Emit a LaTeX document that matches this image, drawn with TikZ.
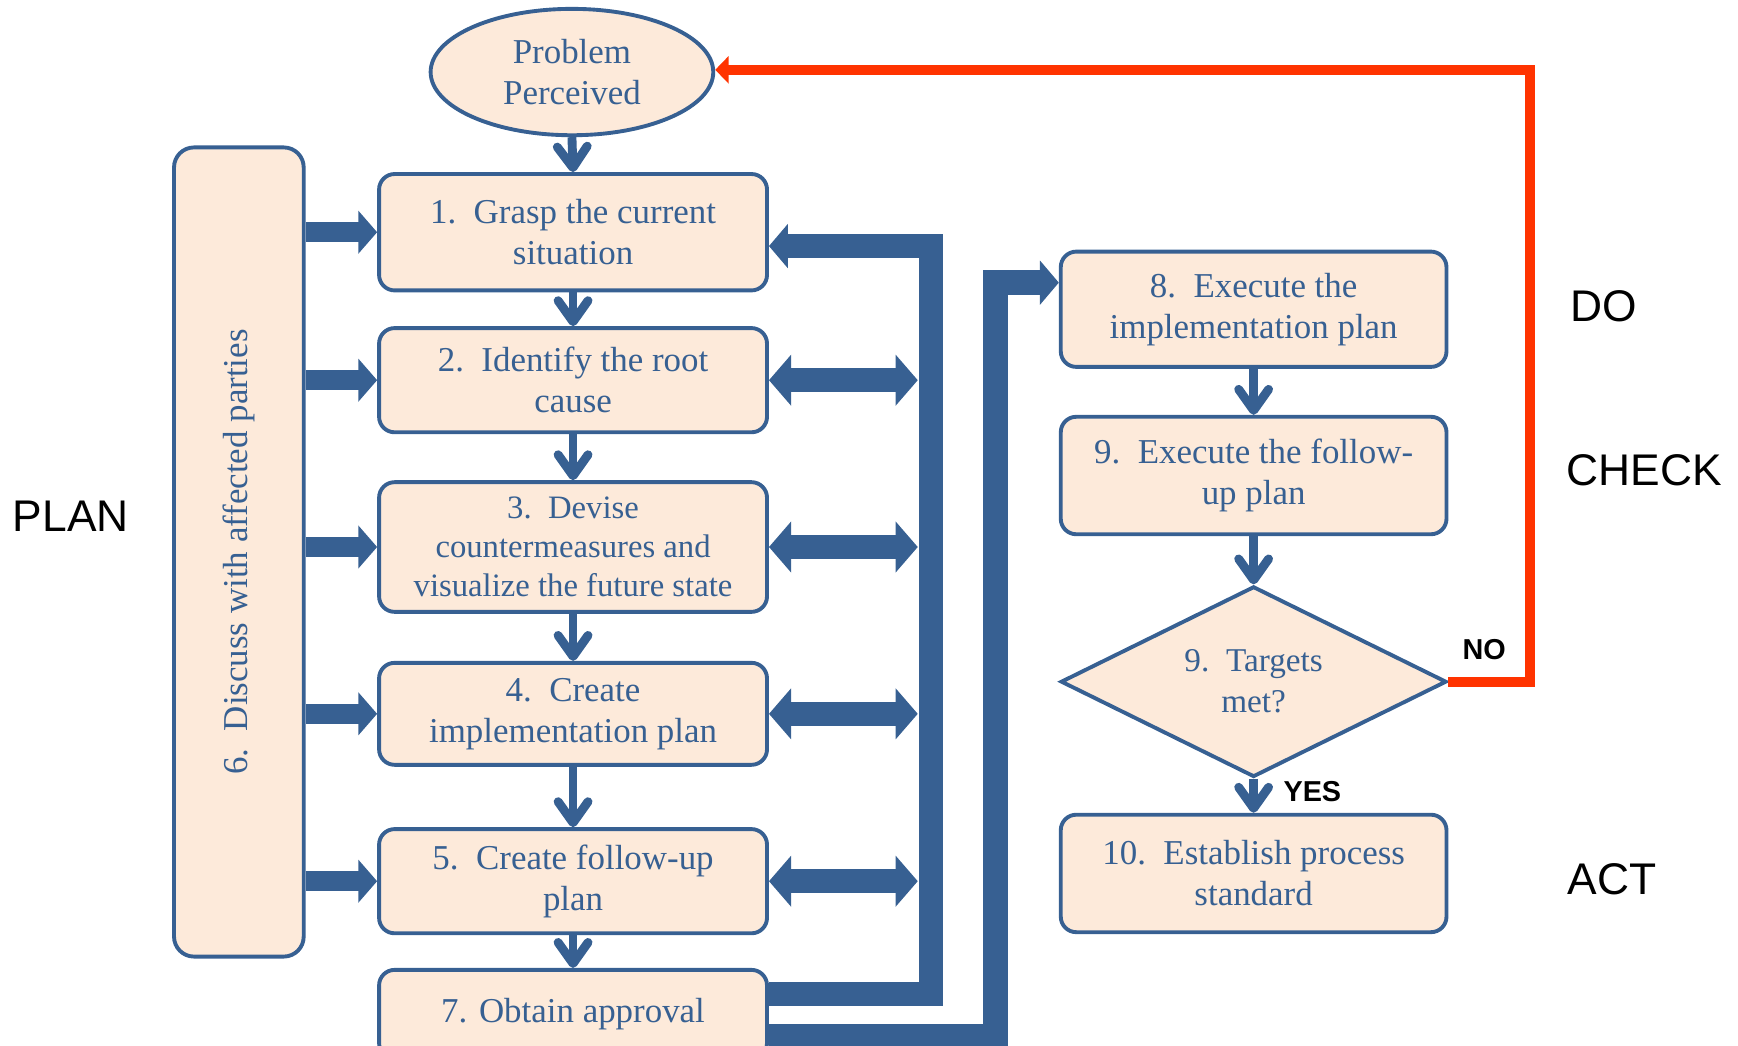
\documentclass[tikz,border=0pt]{standalone}
\usepackage{fontspec}
\setmainfont{Liberation Serif}
\setsansfont{Liberation Sans}
\usetikzlibrary{arrows.meta,shapes.geometric}
\definecolor{bl}{RGB}{55,96,146}
\definecolor{pe}{RGB}{253,234,218}
\definecolor{rd}{RGB}{255,51,0}
\begin{document}
\begin{tikzpicture}[x=1pt,y=-1pt,
 txt/.style={text=bl,font=\fontsize{31.5}{37}\selectfont,align=center},
 box/.style={txt,draw=bl,line width=3.5pt,fill=pe,rounded corners=14pt,inner sep=0pt,minimum width=350pt},
 rbox/.style={box,minimum width=348pt},
 dn/.style={draw=bl,line width=8pt,-{Straight Barb[length=19pt,width=27pt,round]}},
 blk/.style={draw=bl,line width=18pt,-{Triangle[length=17pt,width=38pt]}},
 dbl/.style={draw=bl,line width=22pt,{Triangle[length=20pt,width=45pt]}-{Triangle[length=20pt,width=45pt]}},
 brk/.style={draw=bl,line width=22pt,line join=miter,-{Triangle[length=17pt,width=39pt]}},
 phase/.style={font=\sffamily\fontsize{40}{46}\selectfont,anchor=west},
 yn/.style={font=\sffamily\bfseries\fontsize{26}{30}\selectfont}
]
\useasboundingbox (0,0) rectangle (1568,943);
\clip (0,0) rectangle (1568,943);

% left column
\node[txt,ellipse,draw=bl,line width=3.5pt,fill=pe,inner sep=0pt,minimum width=255pt,minimum height=114pt] (pp) at (516,65) {Problem\\Perceived};
\node[box,minimum height=105pt] (b1) at (517,209.5) {1.~~Grasp the current\\situation};
\node[box,minimum height=94pt] (b2) at (517,343) {2.~~Identify the root\\cause};
\node[box,minimum height=117pt,font=\fontsize{29.5}{35}\selectfont] (b3) at (517,493.5) {3.~~Devise\\countermeasures and\\visualize the future state};
\node[box,minimum height=92pt] (b4) at (517,644) {4.~~Create\\implementation plan};
\node[box,minimum height=94pt] (b5) at (517,795) {5.~~Create follow-up\\plan};
\node[box,minimum height=80pt] (b7) at (517,915) {7. Obtain approval};
\node[box,rotate=90,rounded corners=18pt,minimum width=730pt,minimum height=117pt] (b6) at (215.5,498) {6.~~Discuss with affected parties};

% right column
\node[rbox,minimum height=104pt] (b8) at (1131,279) {8.~~Execute the\\implementation plan};
\node[rbox,minimum height=106pt] (b9) at (1131,429) {9.~~Execute the follow-\\up plan};
\node[txt,diamond,draw=bl,line width=3.5pt,fill=pe,inner sep=0pt,shape aspect=2,minimum width=348pt,minimum height=172pt,font=\fontsize{30}{37}\selectfont] (dm) at (1131,615) {9.~~Targets\\met?};
\node[rbox,minimum height=106pt] (b10) at (1131,788) {10.~~Establish process\\standard};

% phase labels
\node[phase] (lplan) at (8,466) {PLAN};
\node[phase] (ldo) at (1413,276) {DO};
\node[phase] (lcheck) at (1410,424) {CHECK};
\node[phase] (lact) at (1411,793) {ACT};
\node[yn] (lyes) at (1184,714) {YES};
\node[yn] (lno) at (1339,586) {NO};

% coordinates
\coordinate (dl) at (828,0);
\coordinate (k1) at (840,897);
\coordinate (k2) at (840,222);
\coordinate (k3) at (898,935);
\coordinate (k4) at (898,255);
\coordinate (r1) at (1380,615);
\coordinate (r2) at (1380,63);

% down arrows
\draw[dn] (pp.south) -- (b1.north);
\draw[dn] (b1.south) -- (b2.north);
\draw[dn] (b2.south) -- (b3.north);
\draw[dn] (b3.south) -- (b4.north);
\draw[dn] (b4.south) -- (b5.north);
\draw[dn] (b5.south) -- (b7.north);
\draw[dn] (b8.south) -- (b9.north);
\draw[dn] (b9.south) -- (dm.north);
\draw[dn] (dm.south) -- (b10.north);

% arrows from box 6
\foreach \b in {b1,b2,b3,b4,b5}
  \draw[blk] (b6.south |- \b.west) -- (\b.west);

% double arrows
\foreach \b in {b2,b3,b4,b5}
  \draw[dbl] (\b.east) -- (\b.east -| dl);

% brackets
\draw[brk] (b7.east |- k1) -- (k1) -- (k2) -- (b1.east |- k2);
\draw[brk] (b7.east |- k3) -- (k3) -- (k4) -- (b8.west |- k4);

% red loop
\draw[rd,line width=9pt,line join=miter,-{Triangle[length=12pt,width=24pt]}] (dm.east) -- (r1) -- (r2) -- (pp.east |- r2);
\end{tikzpicture}
\end{document}
